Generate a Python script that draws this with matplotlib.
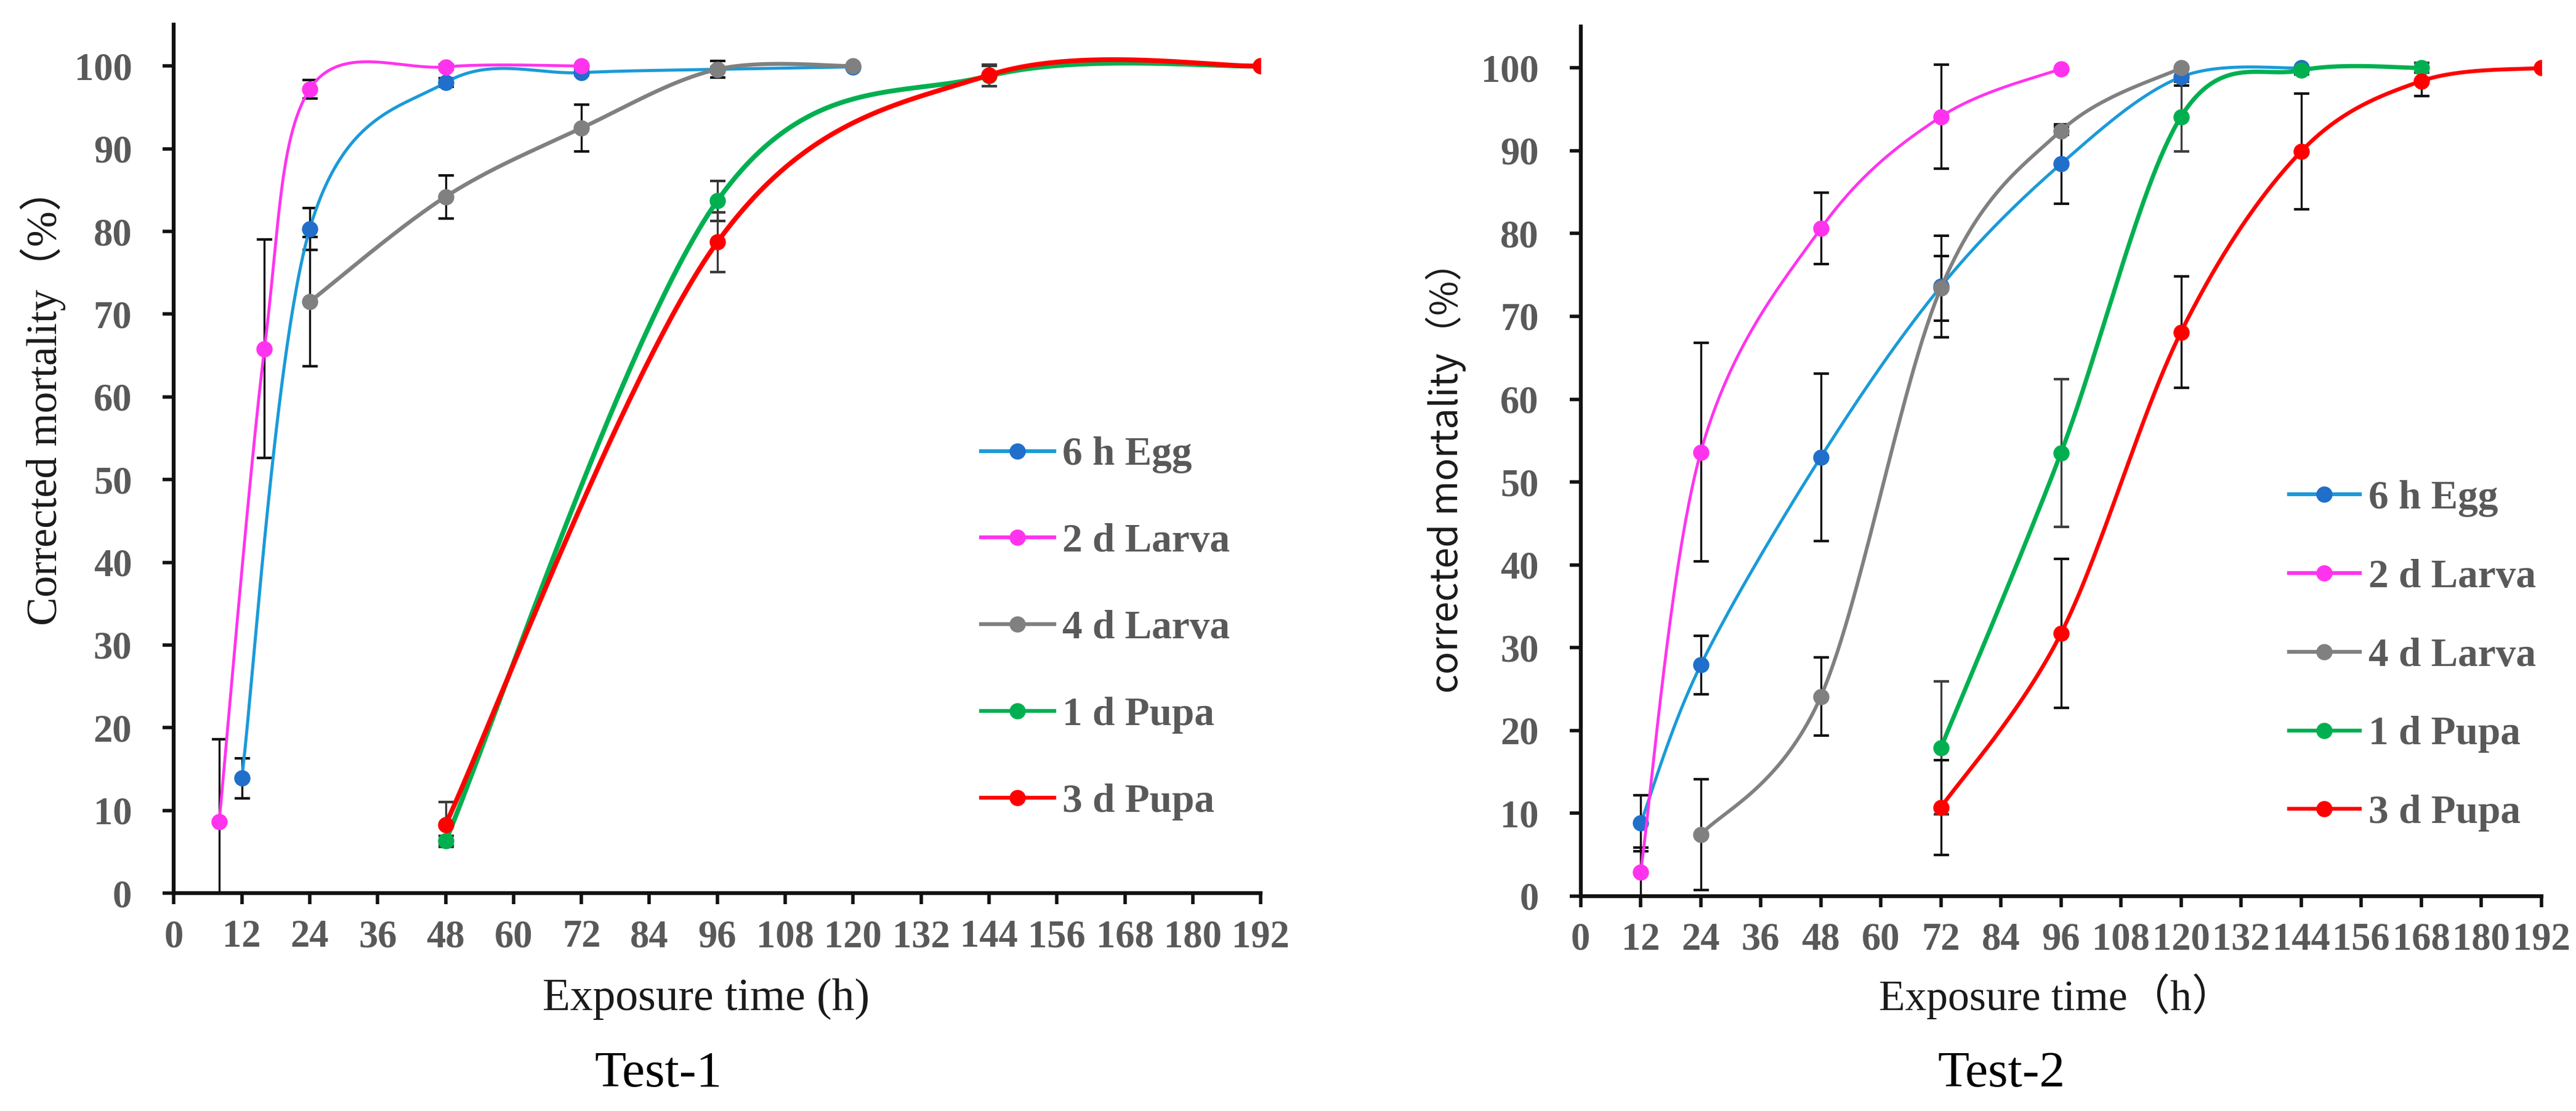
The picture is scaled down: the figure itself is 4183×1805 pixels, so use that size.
import numpy as np
import matplotlib.pyplot as plt

plt.rcParams['font.family'] = ['Liberation Serif', 'Noto Sans CJK SC']

# ---- data ----
labels = ['6 h Egg', '2 d Larva', '4 d Larva', '1 d Pupa', '3 d Pupa']

# Test-1
t1_x_egg = [12, 24, 48, 72, 96, 120]
t1_egg = [13.9, 80.3, 98.0, 99.2, 99.6, 99.9]
t1_egg_err = [2.4, 2.5, 0.5, 0.3, 0.3, 0]

t1_x_l2 = [8, 16, 24, 48, 72]
t1_l2 = [8.6, 65.8, 97.2, 99.9, 100]
t1_l2_err = [10.0, 13.2, 1.1, 0.3, 0]

t1_x_l4 = [24, 48, 72, 96, 120]
t1_l4 = [71.5, 84.2, 92.5, 99.6, 100]
t1_l4_err = [7.8, 2.6, 2.8, 1.0, 0]

t1_x_p1 = [48, 96, 144, 192]
t1_p1 = [6.3, 83.7, 98.8, 100]
t1_p1_err = [0.6, 2.4, 1.2, 0]

t1_x_p3 = [48, 96, 144, 192]
t1_p3 = [8.3, 78.7, 98.9, 100]
t1_p3_err = [2.7, 3.6, 1.3, 0]

# Test-2
t2_x_egg = [12, 24, 48, 72, 96, 120, 144]
t2_egg = [8.8, 27.9, 53.0, 73.6, 88.4, 98.9, 100]
t2_egg_err = [3.4, 3.5, 10.1, 6.1, 4.8, 1.0, 0]

t2_x_l2 = [12, 24, 48, 72, 96]
t2_l2 = [2.9, 53.6, 80.6, 94.1, 99.9]
t2_l2_err = [3.0, 13.2, 4.3, 6.3, 0]

t2_x_l4 = [24, 48, 72, 96, 120]
t2_l4 = [7.4, 24.1, 73.4, 92.4, 100]
t2_l4_err = [6.7, 4.7, 3.9, 0.5, 0]

t2_x_p1 = [72, 96, 120, 144, 168]
t2_p1 = [17.9, 53.5, 94.1, 99.7, 100]
t2_p1_err = [8.0, 8.9, 4.2, 0.5, 0.6]

t2_x_p3 = [72, 96, 120, 144, 168, 192]
t2_p3 = [10.7, 31.7, 68.1, 89.9, 98.4, 100]
t2_p3_err = [5.7, 9.0, 6.7, 7.0, 1.8, 0]

line_cols = ['#1a9ad8', '#ff33ee', '#808080', '#00b050', '#ff0000']
mark_cols = ['#1f6fcb', '#ff33ee', '#808080', '#00b050', '#ff0000']
tick_col = '#595959'


def smooth(x, y, n=60):
    # excel-like smoothed line: catmull-rom segments as cubic beziers
    p = np.column_stack([x, y]).astype(float)
    pts = [p[0]]
    for i in range(len(p) - 1):
        p0 = p[i - 1] if i > 0 else p[i]
        p1, p2 = p[i], p[i + 1]
        p3 = p[i + 2] if i + 2 < len(p) else p[i + 1]
        c1 = p1 + (p2 - p0) / 6
        c2 = p2 - (p3 - p1) / 6
        t = np.linspace(0, 1, n)[1:, None]
        seg = ((1 - t) ** 3) * p1 + 3 * ((1 - t) ** 2) * t * c1 + 3 * (1 - t) * t ** 2 * c2 + t ** 3 * p2
        pts.extend(seg)
    pts = np.array(pts)
    return pts[:, 0], pts[:, 1]


def draw_panel(ax, series, widths, err_cols):
    handles = []
    for k, (xs, ys, es) in enumerate(series):
        ax.errorbar(xs, ys, yerr=es, fmt='none', ecolor=err_cols[k], elinewidth=2.4,
                    capsize=9, capthick=3, zorder=2 + k * 0.1)
        sx, sy = smooth(xs, ys)
        ax.plot(sx, sy, color=line_cols[k], lw=widths[k], zorder=3 + k * 0.1,
                solid_capstyle='round')
        ax.plot(xs, ys, 'o', color=mark_cols[k], ms=19, mec='none', zorder=3.05 + k * 0.1)
        h, = ax.plot([], [], '-o', color=line_cols[k], mfc=mark_cols[k], mec='none',
                     ms=19, lw=4.5)
        handles.append(h)

    ax.set_xlim(0, 192)
    ax.set_ylim(0, 105)
    ax.set_xticks(np.arange(0, 193, 12))
    ax.set_yticks(np.arange(0, 101, 10))
    for s in ['top', 'right']:
        ax.spines[s].set_visible(False)
    for s in ['left', 'bottom']:
        ax.spines[s].set_linewidth(4.5)
        ax.spines[s].set_color('#111111')
    ax.tick_params(direction='out', length=13, width=4, color='#111111',
                   labelsize=45, labelcolor=tick_col)
    ax.tick_params(axis='x', pad=18)
    ax.tick_params(axis='y', pad=36)
    for lb in ax.get_xticklabels() + ax.get_yticklabels():
        lb.set_fontweight('bold')
        lb.set_family(['Liberation Serif'])
    return handles


fig = plt.figure(figsize=(41.83, 18.05), dpi=100)
ax1 = fig.add_axes([0.0675, 0.1961, 0.4219, 0.7817])
ax2 = fig.add_axes([0.6136, 0.1934, 0.3729, 0.7828])

s1 = [(t1_x_egg, t1_egg, t1_egg_err), (t1_x_l2, t1_l2, t1_l2_err), (t1_x_l4, t1_l4, t1_l4_err),
      (t1_x_p1, t1_p1, t1_p1_err), (t1_x_p3, t1_p3, t1_p3_err)]
s2 = [(t2_x_egg, t2_egg, t2_egg_err), (t2_x_l2, t2_l2, t2_l2_err), (t2_x_l4, t2_l4, t2_l4_err),
      (t2_x_p1, t2_p1, t2_p1_err), (t2_x_p3, t2_p3, t2_p3_err)]

h1 = draw_panel(ax1, s1, [3.6, 3.4, 4.6, 5.6, 5.6],
                ['#111111', '#111111', '#111111', '#333333', '#3a3a3a'])
h2 = draw_panel(ax2, s2, [3.6, 3.4, 4.2, 5.0, 4.6],
                ['#111111', '#111111', '#111111', '#3f3f3f', '#111111'])

leg_font = {'family': 'Liberation Serif', 'weight': 'bold', 'size': 47}
lg1 = ax1.legend(h1, labels, loc='upper left', bbox_to_anchor=(0.3808, 0.607),
                 bbox_transform=fig.transFigure, frameon=False, prop=leg_font,
                 handlelength=1.82, handletextpad=0.21, labelspacing=1.24,
                 borderpad=0, borderaxespad=0)
lg2 = ax2.legend(h2, labels, loc='upper left', bbox_to_anchor=(0.8886, 0.568),
                 bbox_transform=fig.transFigure, frameon=False, prop=leg_font,
                 handlelength=1.76, handletextpad=0.21, labelspacing=1.04,
                 borderpad=0, borderaxespad=0)
for lg in (lg1, lg2):
    for t in lg.get_texts():
        t.set_color(tick_col)

# axis titles
fig.text(0.0167, 0.6427, 'Corrected mortality（%）', rotation=90, ha='center', va='center',
         fontsize=50, color='#1a1a1a', family=['Liberation Serif', 'Noto Sans CJK SC'])
fig.text(0.5613, 0.579, 'corrected mortality（%）', rotation=90, ha='center', va='center',
         fontsize=44, color='#1a1a1a', family=['Noto Sans CJK SC'])
fig.text(0.274, 0.0909, 'Exposure time (h)', ha='center', va='baseline',
         fontsize=53, color='#1a1a1a')
fig.text(0.7985, 0.0909, 'Exposure time（h）', ha='center', va='baseline',
         fontsize=50, color='#1a1a1a', family=['Liberation Serif', 'Noto Sans CJK SC'])

fig.text(0.2556, 0.0222, 'Test-1', ha='center', va='baseline', fontsize=60, color='black')
fig.text(0.777, 0.0222, 'Test-2', ha='center', va='baseline', fontsize=60, color='black')

fig.savefig('out.png', dpi=100, facecolor='white')
